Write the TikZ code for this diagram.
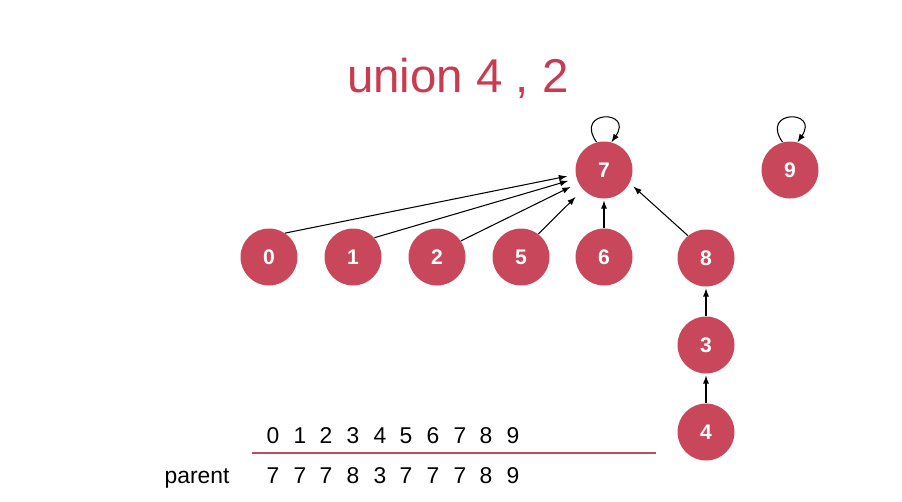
\documentclass[tikz,border=0pt]{standalone}
\usepackage{fontspec}
\setmainfont{Liberation Sans}
\definecolor{uRed}{HTML}{C8475A}
\definecolor{titleRed}{HTML}{C83B50}
\begin{document}
\begin{tikzpicture}[x=0.02cm, y=-0.02cm,
  elem/.style={circle, fill=uRed, minimum size=1.14cm, inner sep=0pt, text=white, font=\bfseries\fontsize{12}{14}\selectfont},
  cell/.style={font=\fontsize{13}{15}\selectfont, inner sep=0pt, anchor=base},
  link/.style={->, >=latex, line width=0.6pt, black}]
\useasboundingbox (0,0) rectangle (902,501);

\node[font=\fontsize{27}{31}\selectfont, text=titleRed] (Title) at (458,78) {union 4 , 2};

\node[elem] (Node7) at (604,170) {7};
\node[elem] (Node9) at (790,170) {9};
\node[elem] (Node0) at (269,257) {0};
\node[elem] (Node1) at (353,257) {1};
\node[elem] (Node2) at (437,257) {2};
\node[elem] (Node5) at (521,257) {5};
\node[elem] (Node6) at (604,257) {6};
\node[elem] (Node8) at (706,258) {8};
\node[elem] (Node3) at (706,345) {3};
\node[elem] (Node4) at (706,432) {4};

\draw[link, shorten >=5pt] (Node0.56) -- (Node7.189);
\draw[link, shorten >=5pt] (Node1.42) -- (Node7.197);
\draw[link, shorten >=5pt] (Node2.34) -- (Node7.207);
\draw[link, shorten >=6pt] (Node5.53) -- (Node7.223);
\draw[link, shorten >=1pt] (Node6) -- (Node7);
\draw[link, shorten >=3pt] (Node8.129) -- (Node7.333);
\draw[link, shorten >=1pt] (Node3) -- (Node8);
\draw[link, shorten >=1pt] (Node4) -- (Node3);
\draw[link] (Node7.105) to[out=125, in=55, distance=0.8cm] (Node7.75);
\draw[link] (Node9.105) to[out=125, in=55, distance=0.8cm] (Node9.75);

% parent array
\node[cell] (Idx0) at (273,443) {0};
\node[cell] (Idx1) at (300,443) {1};
\node[cell] (Idx2) at (326,443) {2};
\node[cell] (Idx3) at (353,443) {3};
\node[cell] (Idx4) at (380,443) {4};
\node[cell] (Idx5) at (406,443) {5};
\node[cell] (Idx6) at (433,443) {6};
\node[cell] (Idx7) at (460,443) {7};
\node[cell] (Idx8) at (486,443) {8};
\node[cell] (Idx9) at (513,443) {9};
\coordinate (LineL) at (252,453);
\coordinate (LineR) at (656,453);
\draw[uRed, line width=0.7pt] (LineL) -- (LineR);
\node[cell] (Parent) at (197,483) {parent};
\node[cell] (Par0) at (273,483) {7};
\node[cell] (Par1) at (300,483) {7};
\node[cell] (Par2) at (326,483) {7};
\node[cell] (Par3) at (353,483) {8};
\node[cell] (Par4) at (380,483) {3};
\node[cell] (Par5) at (406,483) {7};
\node[cell] (Par6) at (433,483) {7};
\node[cell] (Par7) at (460,483) {7};
\node[cell] (Par8) at (486,483) {8};
\node[cell] (Par9) at (513,483) {9};
\end{tikzpicture}
\end{document}
